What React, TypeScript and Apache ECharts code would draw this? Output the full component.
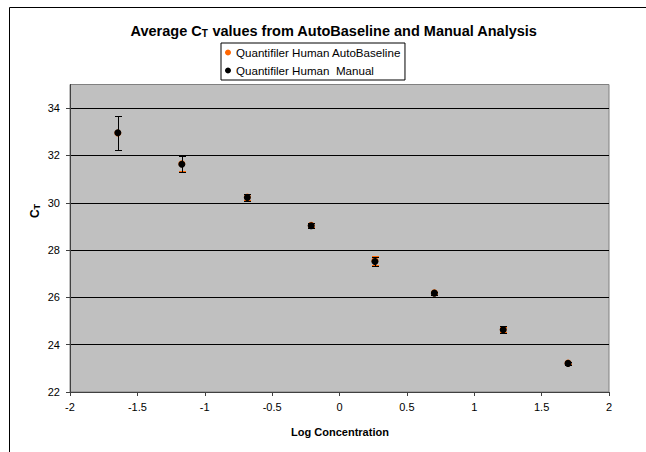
import React, { useEffect, useRef } from "react";
import * as echarts from "echarts";

// ---- data ----
const logConc = [-1.645, -1.17, -0.684, -0.21, 0.263, 0.704, 1.215, 1.696];
const autoCt = [32.95, 31.65, 30.24, 29.05, 27.56, 26.19, 24.64, 23.22];
const autoSd = [0.7, 0.32, 0.12, 0.08, 0.19, 0.05, 0.12, 0.04];
const manualCt = [32.96, 31.63, 30.22, 29.03, 27.52, 26.18, 24.63, 23.21];
const manualSd = [0.72, 0.33, 0.14, 0.1, 0.18, 0.06, 0.14, 0.05];
const yTicks = [22, 24, 26, 28, 30, 32, 34];
const seriesNames = ["Quantifiler Human AutoBaseline", "Quantifiler Human  Manual"];
const titleText = "Average C{sub|T} values from AutoBaseline and Manual Analysis";
const xTitle = "Log Concentration";
const yTitle = "C{sub|T}";

const ORANGE = "#FF6600";
const BLACK = "#000000";
const FONT = "Liberation Sans, Arial, sans-serif";

function errorBars(color: string) {
  return (params: any, api: any) => {
    const x = api.value(0);
    const y = api.value(1);
    const e = api.value(2);
    const top = api.coord([x, y + e]);
    const bot = api.coord([x, y - e]);
    const cx = Math.round(top[0]) + 0.5;
    const ty = Math.round(top[1]) + 0.5;
    const by = Math.round(bot[1]) + 0.5;
    const hw = 3.5;
    const style = { stroke: color, lineWidth: 1, fill: null };
    return {
      type: "group",
      children: [
        { type: "line", shape: { x1: cx, y1: ty, x2: cx, y2: by }, style },
        { type: "line", shape: { x1: cx - hw, y1: ty, x2: cx + hw, y2: ty }, style },
        { type: "line", shape: { x1: cx - hw, y1: by, x2: cx + hw, y2: by }, style },
      ],
    };
  };
}

export default function App() {
  const ref = useRef<HTMLDivElement>(null);
  useEffect(() => {
    if (!ref.current) return;
    const chart = echarts.init(ref.current, null, { renderer: "svg" });
    const autoPts = logConc.map((x, i) => [x, autoCt[i]]);
    const manualPts = logConc.map((x, i) => [x, manualCt[i]]);
    const autoErr = logConc.map((x, i) => [x, autoCt[i], autoSd[i]]);
    const manualErr = logConc.map((x, i) => [x, manualCt[i], manualSd[i]]);
    chart.setOption({
      animation: false,
      backgroundColor: "#ffffff",
      textStyle: { fontFamily: FONT },
      grid: {
        left: 70,
        right: 37,
        top: 84.5,
        bottom: 60,
        show: true,
        backgroundColor: "#C0C0C0",
        borderColor: "#808080",
        borderWidth: 1,
      },
      graphic: [
        {
          type: "rect",
          shape: { x: 9.5, y: 7.5, width: 700, height: 500 },
          style: { fill: null, stroke: "#000", lineWidth: 1 },
          z: -10,
          silent: true,
        },
        {
          type: "text",
          x: 334,
          y: 31,
          style: {
            text: titleText,
            align: "center",
            verticalAlign: "middle",
            fontFamily: FONT,
            fontWeight: "bold",
            fontSize: 14.5,
            fill: "#000",
            rich: {
              sub: { fontFamily: FONT, fontWeight: "bold", fontSize: 10, verticalAlign: "bottom", lineHeight: 10 },
            },
          },
        },
        {
          type: "text",
          x: 340,
          y: 432,
          style: {
            text: xTitle,
            align: "center",
            verticalAlign: "middle",
            fontFamily: FONT,
            fontWeight: "bold",
            fontSize: 11,
            fill: "#000",
          },
        },
        {
          type: "text",
          x: 35,
          y: 211,
          rotation: Math.PI / 2,
          style: {
            text: yTitle,
            align: "center",
            verticalAlign: "middle",
            fontFamily: FONT,
            fontWeight: "bold",
            fontSize: 12,
            fill: "#000",
            rich: {
              sub: { fontFamily: FONT, fontWeight: "bold", fontSize: 9, verticalAlign: "bottom", lineHeight: 9 },
            },
          },
        },
      ],
      legend: {
        orient: "vertical",
        left: 221,
        top: 43,
        data: seriesNames,
        icon: "circle",
        itemWidth: 6,
        itemHeight: 6,
        itemGap: 6,
        padding: [3.5, 4, 3.5, 4],
        backgroundColor: "#ffffff",
        borderColor: "#000",
        borderWidth: 1,
        borderRadius: 0,
        textStyle: { fontFamily: FONT, fontSize: 11.6, color: "#000" },
      },
      xAxis: {
        type: "value",
        min: -2,
        max: 2,
        interval: 0.5,
        axisLine: { show: true, onZero: false, lineStyle: { color: "#404040", width: 1 } },
        axisTick: { show: true, length: 4, lineStyle: { color: "#404040" } },
        axisLabel: { margin: 9, fontSize: 11, color: "#000", fontFamily: FONT },
        splitLine: { show: false },
      },
      yAxis: {
        type: "value",
        min: 22,
        max: 35,
        interval: 2,
        axisLine: { show: true, onZero: false, lineStyle: { color: "#404040", width: 1 } },
        axisTick: { show: true, length: 4, customValues: yTicks, lineStyle: { color: "#404040" } },
        axisLabel: { margin: 10, fontSize: 11, color: "#000", fontFamily: FONT, customValues: yTicks },
        splitLine: { show: true, lineStyle: { color: "#000", width: 1 } },
      },
      series: [
        {
          type: "custom",
          name: "autoErr",
          renderItem: errorBars(ORANGE),
          data: autoErr,
          encode: { x: 0, y: 1 },
          z: 2,
        },
        {
          type: "scatter",
          name: seriesNames[0],
          data: autoPts,
          symbol: "circle",
          symbolSize: 7,
          itemStyle: { color: ORANGE, opacity: 1 },
          z: 3,
        },
        {
          type: "custom",
          name: "manualErr",
          renderItem: errorBars(BLACK),
          data: manualErr,
          encode: { x: 0, y: 1 },
          z: 4,
        },
        {
          type: "scatter",
          name: seriesNames[1],
          data: manualPts,
          symbol: "circle",
          symbolSize: 7,
          itemStyle: { color: BLACK, opacity: 1 },
          z: 5,
        },
      ],
    });
    return () => chart.dispose();
  }, []);
  return (
    <div
      ref={ref}
      style={{ position: "fixed", left: 0, top: 0, width: 646, height: 452 }}
    />
  );
}
